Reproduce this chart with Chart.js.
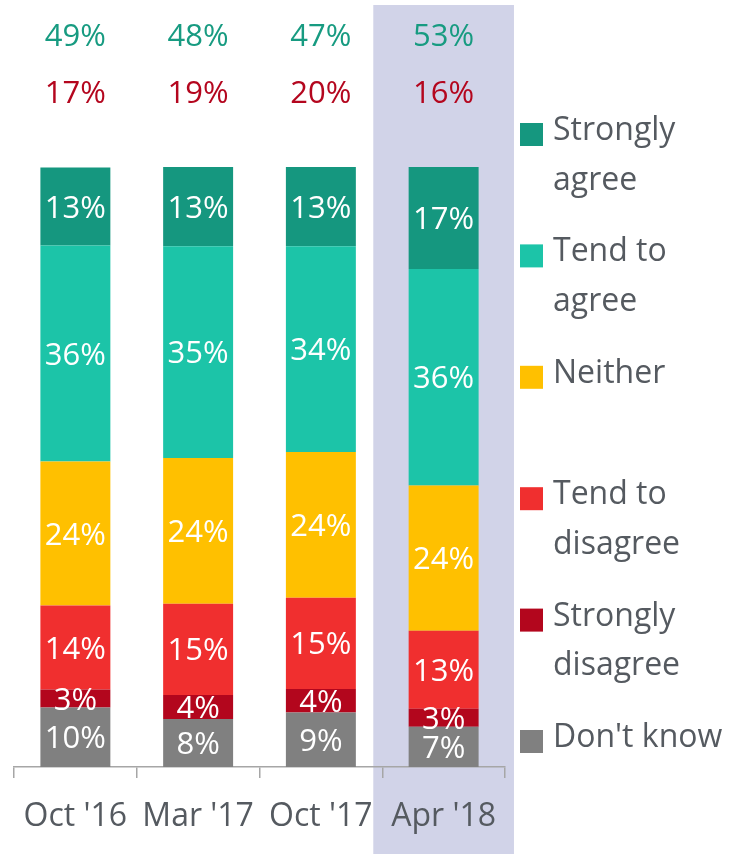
<!DOCTYPE html>
<html>
<head>
<meta charset="utf-8">
<script src="https://cdn.jsdelivr.net/npm/chart.js@4"></script>
<style>
html, body { margin: 0; padding: 0; background: #ffffff; }
#wrap { width: 733px; height: 854px; }
</style>
</head>
<body>
<div id="wrap"><canvas id="c" width="733" height="854"></canvas></div>
<script>
// ---- data ----
const categories = ["Oct '16", "Mar '17", "Oct '17", "Apr '18"];
const dontKnow = [9.9, 8.0, 9.1, 6.7];
const stronglyDisagree = [3.0, 4.0, 3.9, 3.0];
const tendToDisagree = [14.0, 15.2, 15.2, 13.0];
const neither = [24.0, 24.3, 24.3, 24.2];
const tendToAgree = [36.0, 35.3, 34.3, 36.1];
const stronglyAgree = [13.0, 13.2, 13.2, 17.0];
const agreeTotals = [49, 48, 47, 53];
const disagreeTotals = [17, 19, 20, 16];
const seriesNames = ["Don't know", "Strongly disagree", "Tend to disagree", "Neither", "Tend to agree", "Strongly agree"];
const legendLines = {
  "Strongly agree": ["Strongly", "agree"],
  "Tend to agree": ["Tend to", "agree"],
  "Neither": ["Neither"],
  "Tend to disagree": ["Tend to", "disagree"],
  "Strongly disagree": ["Strongly", "disagree"],
  "Don't know": ["Don't know"]
};
const highlightIndex = 3;

// ---- styles ----
const FONT = "'Open Sans', 'DejaVu Sans', sans-serif";
const colors = ["#808080", "#b3061d", "#f02f2f", "#ffc000", "#1cc4a8", "#15977f"];
const seriesValues = [dontKnow, stronglyDisagree, tendToDisagree, neither, tendToAgree, stronglyAgree];

const datasets = seriesNames.map((name, i) => ({
  label: name,
  data: seriesValues[i],
  backgroundColor: colors[i],
  borderWidth: 0,
  barPercentage: 0.57,
  categoryPercentage: 1.0
}));

const bandPlugin = {
  id: 'band',
  beforeDraw(chart) {
    const x = chart.scales.x;
    const ctx = chart.ctx;
    const cw = (x.right - x.left) / categories.length;
    const cx = x.getPixelForValue(highlightIndex);
    const half = cw * 0.573;
    ctx.save();
    ctx.fillStyle = '#d1d3e8';
    ctx.fillRect(cx - half, 5, half * 2, chart.height - 5);
    ctx.restore();
  }
};

const labelsPlugin = {
  id: 'valueLabels',
  afterDatasetsDraw(chart) {
    const ctx = chart.ctx;
    const size = 31;
    ctx.save();
    ctx.font = size + 'px ' + FONT;
    ctx.textAlign = 'center';
    ctx.textBaseline = 'alphabetic';
    ctx.fillStyle = '#ffffff';
    const cap = size * 0.714;
    chart.data.datasets.forEach((ds, di) => {
      const meta = chart.getDatasetMeta(di);
      meta.data.forEach((bar, i) => {
        const yc = (bar.y + bar.base) / 2;
        ctx.fillText(Math.round(ds.data[i]) + '%', bar.x, yc + cap / 2);
      });
    });
    // totals on top
    const x = chart.scales.x;
    categories.forEach((c, i) => {
      const px = x.getPixelForValue(i);
      ctx.fillStyle = '#179b81';
      ctx.fillText(agreeTotals[i] + '%', px, 46);
      ctx.fillStyle = '#b4061e';
      ctx.fillText(disagreeTotals[i] + '%', px, 103);
    });
    ctx.restore();
  }
};

const legendPlugin = {
  id: 'sideLegend',
  afterDraw(chart) {
    const ctx = chart.ctx;
    ctx.save();
    ctx.font = '32px ' + FONT;
    ctx.textAlign = 'left';
    ctx.textBaseline = 'alphabetic';
    const items = chart.data.datasets.slice().reverse();
    items.forEach((ds, k) => {
      const base = 140 + k * 121.4;
      ctx.fillStyle = ds.backgroundColor;
      ctx.fillRect(520, base - 17, 23, 23);
      ctx.fillStyle = '#555a60';
      (legendLines[ds.label] || [ds.label]).forEach((line, j) => {
        ctx.fillText(line, 553, base + j * 49.5);
      });
    });
    ctx.restore();
  }
};

new Chart(document.getElementById('c'), {
  type: 'bar',
  data: { labels: categories, datasets: datasets },
  options: {
    responsive: false,
    animation: false,
    events: [],
    layout: { padding: { left: 14, right: 228, top: 167, bottom: 0 } },
    plugins: { legend: { display: false }, tooltip: { enabled: false } },
    scales: {
      x: {
        stacked: true,
        afterFit(scale) { scale.height = 87; },
        grid: { display: true, drawOnChartArea: false, drawTicks: true, tickLength: 11, offset: true, color: '#a6a6a6', lineWidth: 1.5 },
        border: { display: true, color: '#a6a6a6', width: 1.5 },
        ticks: { color: '#555a60', font: { family: FONT, size: 32 }, padding: 20, maxRotation: 0, autoSkip: false }
      },
      y: { stacked: true, display: false, min: 0, max: 100 }
    }
  },
  plugins: [bandPlugin, labelsPlugin, legendPlugin]
});
</script>
</body>
</html>
